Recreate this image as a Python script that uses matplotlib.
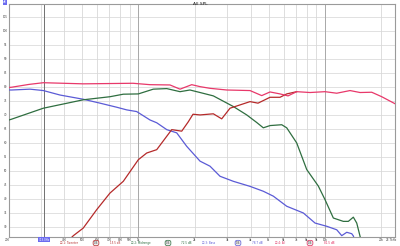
import numpy as np
import matplotlib
matplotlib.use("Agg")
import matplotlib.pyplot as plt

# ---- data (frequency in Hz, level in dB) ----
sum_f = [203, 210, 260, 310, 507, 937, 1155, 1478, 1673, 1932, 2141, 2421, 2975,
         3966, 4581, 5075, 5741, 6336, 7052, 8312, 10000, 11553, 13612, 15400,
         17790, 20125, 23700]
sum_db = [79.8, 79.9, 80.9, 81.5, 81.1, 81.3, 80.8, 80.7, 79.2, 80.8, 80.1, 79.5, 78.9,
          78.7, 76.9, 78.2, 77.5, 76.8, 78.3, 78.0, 78.3, 77.75, 78.7, 78.0,
          78.1, 76.5, 74.0]

tw_f = [420, 449, 507, 599, 705, 831, 1000, 1109, 1255, 1510, 1708, 1850, 1963,
        2141, 2522, 2797, 3099, 3966, 4377, 5075, 5741, 6235, 7052]
tw_db = [25.0, 26.9, 29.6, 36.2, 42.1, 46.3, 54.0, 56.4, 57.6, 64.75, 64.2, 67.5, 70.25,
         70.0, 70.4, 68.6, 72.4, 74.75, 74.2, 76.3, 76.3, 77.5, 78.3]

mid_f = [203, 210, 310, 507, 705, 831, 1000, 1203, 1420, 1673, 1891, 2141, 2522,
         3228, 3808, 4307, 4672, 5075, 5862, 6235, 7052, 7980, 9207, 10000, 11079,
         12531, 13330, 14178, 14785, 15400, 16000]
mid_db = [68.2, 68.5, 72.4, 75.4, 76.5, 77.4, 77.5, 79.2, 79.4, 78.3, 78.9, 78.0, 76.8,
          73.0, 70.0, 67.3, 65.4, 66.2, 66.5, 65.4, 60.0, 50.5, 44.6, 39.75, 33.2,
          32.0, 32.0, 33.5, 31.4, 26.7, 22.0]

bass_f = [203, 210, 263, 310, 381, 507, 624, 766, 867, 980, 1155, 1255, 1420, 1606,
          1816, 2141, 2421, 2740, 3228, 3966, 4672, 5286, 6235, 7652, 8842, 10212,
          11553, 12288, 13070, 13900, 14178, 14600]
bass_db = [78.9, 78.9, 79.2, 78.7, 77.1, 75.6, 74.2, 72.75, 71.8, 71.2, 68.2, 67.2, 64.75, 63.6,
           58.8, 53.5, 51.7, 48.1, 46.3, 44.5, 42.75, 41.0, 37.4, 35.0, 31.4, 30.25,
           29.0, 26.9, 28.1, 27.6, 26.8, 24.0]

cursor_hz = 313
y_ticks = list(range(30, 110, 5))
x_major = [1000, 10000]
x_minor = [300, 400, 500, 600, 700, 800, 900, 2000, 3000, 4000, 5000, 6000, 7000,
           8000, 9000, 20000]
x_labels = {200: "200", 400: "400", 500: "500", 600: "600", 700: "700", 800: "800",
            900: "900", 1000: "1k", 2000: "2k", 3000: "3k", 4000: "4k", 5000: "5k",
            6000: "6k", 7000: "7k", 8000: "8k", 9000: "9k", 10000: "10k", 20000: "20k"}

legend_items = [("\u2611 1: Tweeter", "1/6", "15.5 dB", "#b52a2a"),
                ("\u2611 2: Midrange", "1/6", "72.5 dB", "#2f6e40"),
                ("\u2611 3: Bass", "1/6", "78.7 dB", "#5b5bd6"),
                ("\u2611 4: All", "1/6", "81.5 dB", "#e0285a")]

# ---- figure ----
fig = plt.figure(figsize=(4.0, 2.46), dpi=100)
ax = fig.add_axes([9 / 400, 9.5 / 246, 386 / 400, 232.5 / 246])
xmin, xmax = 203, 23700
ymin, ymax = 26.6, 109.6
ax.set_xscale("log")
ax.set_xlim(xmin, xmax)
ax.set_ylim(ymin, ymax)

for y in y_ticks:
    ax.axhline(y, color="#dcdcdc", lw=0.6, zorder=0)
for f in x_minor:
    ax.axvline(f, color="#d8d8d8", lw=0.6, zorder=0)
for f in x_major:
    ax.axvline(f, color="#a8a8a8", lw=0.7, zorder=0)
ax.axvline(cursor_hz, color="#707070", lw=0.7, zorder=1)

ax.plot(bass_f, bass_db, color="#5b5bd6", lw=0.9, zorder=3)
ax.plot(mid_f, mid_db, color="#2f6e40", lw=0.9, zorder=3)
ax.plot(tw_f, tw_db, color="#b52a2a", lw=0.9, zorder=3)
ax.plot(sum_f, sum_db, color="#e8386a", lw=0.9, zorder=4)

ax.set_xticks([])
ax.set_yticks([])
ax.minorticks_off()
for s in ax.spines.values():
    s.set_color("#9a9a9a")
    s.set_linewidth(0.8)

fs = 2.0
for f, lab in x_labels.items():
    ax.text(f, -0.006, lab, transform=ax.get_xaxis_transform(), ha="center", va="top",
            fontsize=fs, color="#404040")
ax.text(0.99, -0.006, "23.7kHz", transform=ax.transAxes, ha="center", va="top",
        fontsize=fs, color="#404040")
for y in y_ticks:
    ax.text(-0.004, y, str(y), transform=ax.get_yaxis_transform(), ha="right",
            va="center", fontsize=fs, color="#404040")

# cursor readouts
ax.text(cursor_hz, -0.006, "313.0Hz", transform=ax.get_xaxis_transform(), ha="center",
        va="top", fontsize=fs, color="white",
        bbox=dict(boxstyle="square,pad=0.2", fc="#6b6bf0", ec="none"))
fig.text(5 / 400, 1 - 2 / 246, "dB", ha="center", va="center", fontsize=fs,
         color="white", bbox=dict(boxstyle="square,pad=0.2", fc="#6b6bf0", ec="none"))

fig.text(0.5, 1 - 4 / 246, "All SPL", ha="center", va="center", fontsize=3.2,
         color="#202020")

# legend row
starts = [60, 131, 202, 275]
ovals = [96, 168, 238, 310]
vals = [115, 186, 257, 329]
yl = 1 - 243 / 246
for (name, sm, val, col), x0, xo, xv in zip(legend_items, starts, ovals, vals):
    fig.text(x0 / 400, yl, name, ha="left", va="center", fontsize=fs, color=col)
    fig.text(xo / 400, yl, sm, ha="center", va="center", fontsize=fs, color="#404040",
             bbox=dict(boxstyle="round,pad=0.25,rounding_size=0.7", fc="#ececec",
                       ec=col, lw=0.5))
    fig.text(xv / 400, yl, val, ha="center", va="center", fontsize=fs, color=col)

fig.savefig("out.png", dpi=100)
